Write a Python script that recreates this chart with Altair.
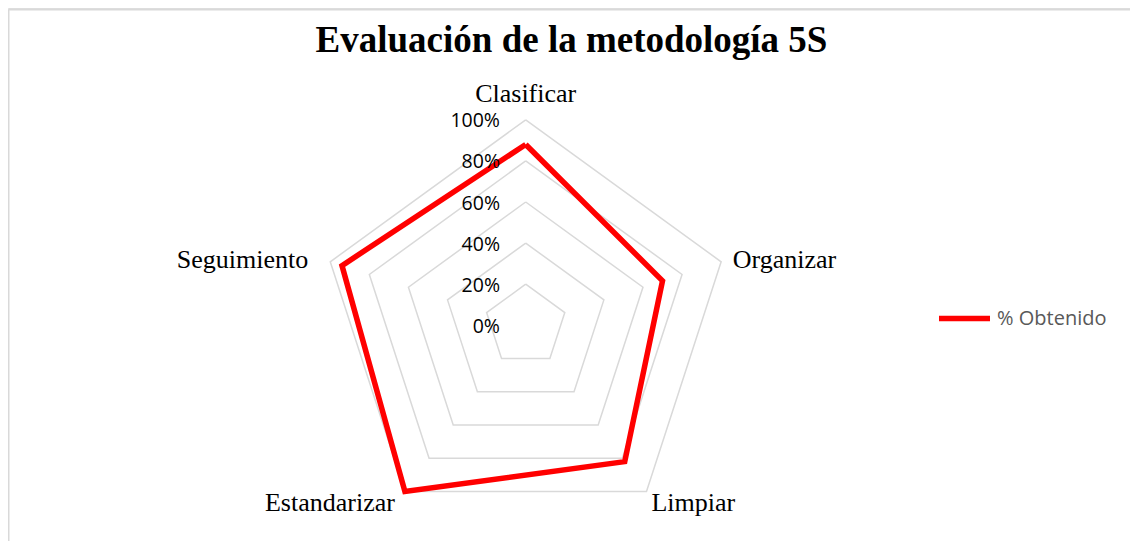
import altair as alt
import pandas as pd

# ---- data ----
categories = ["Clasificar", "Organizar", "Limpiar", "Estandarizar", "Seguimiento"]
values = [88, 70, 82, 100, 94]
grid_levels = [20, 40, 60, 80, 100]
tick_levels = [0, 20, 40, 60, 80, 100]
series_name = "% Obtenido"
title_text = "Evaluación de la metodología 5S"

N = len(categories)

# ---- layout ----
W, H = 1122, 533
R = 205.5          # pixels for 100 %
CX, CY = 517.7, 317.3

xscale = alt.Scale(domain=[-CX / R, (W - CX) / R], zero=False, nice=False)
yscale = alt.Scale(domain=[-(H - CY) / R, CY / R], zero=False, nice=False)

closed = list(range(N)) + [0]
series_df = pd.DataFrame({
    "ord": list(range(N + 1)),
    "k": closed,
    "cat": [categories[i] for i in closed],
    "value": [values[i] for i in closed],
    "series": series_name,
})

grid_rows = []
for lv in grid_levels:
    for o, k in enumerate(closed):
        grid_rows.append({"level": lv, "ord": o, "k": k})
grid_df = pd.DataFrame(grid_rows)

tick_df = pd.DataFrame({"level": tick_levels})
cat_df = pd.DataFrame({"k": list(range(N)), "cat": categories})
title_df = pd.DataFrame({"t": [title_text]})

theta = f"datum.k * 2 * PI / {N}"

X = alt.X("px:Q", scale=xscale, axis=None)
Y = alt.Y("py:Q", scale=yscale, axis=None)

grid = (
    alt.Chart(grid_df)
    .transform_calculate(th=theta)
    .transform_calculate(px="datum.level / 100 * sin(datum.th)",
                         py="datum.level / 100 * cos(datum.th)")
    .mark_line(stroke="#d9d9d9", strokeWidth=1.5)
    .encode(x=X, y=Y, detail="level:N", order="ord:Q")
)

series = (
    alt.Chart(series_df)
    .transform_calculate(th=theta)
    .transform_calculate(px="datum.value / 100 * sin(datum.th)",
                         py="datum.value / 100 * cos(datum.th)")
    .mark_line(strokeWidth=5.5, strokeJoin="miter")
    .encode(
        x=X, y=Y, order="ord:Q",
        color=alt.Color(
            "series:N",
            scale=alt.Scale(domain=[series_name], range=["#ff0000"]),
            legend=alt.Legend(
                title=None, orient="none", legendX=928, legendY=282,
                symbolType="stroke", symbolSize=2601, symbolStrokeWidth=5.5,
                labelFont="Open Sans", labelFontSize=20, labelColor="#595959",
                labelOffset=4, padding=0,
            ),
        ),
    )
)

ticks = (
    alt.Chart(tick_df)
    .transform_calculate(px="0", py="datum.level / 100",
                         label="format(datum.level / 100, '.0%')")
    .mark_text(align="right", baseline="middle", dx=-25.7, dy=1.5,
               font="Open Sans", fontSize=19.5, color="#000000")
    .encode(x=X, y=Y, text="label:N")
)

# label placement styles per category index: (align, dx, dy)
label_style = {
    0: ("center", 0, -18),
    1: ("left", 11.6, 6.5),
    2: ("left", 5, 19),
    3: ("right", -10, 19),
    4: ("right", -22, 6.5),
}
label_layers = []
for k, (al, dx, dy) in label_style.items():
    label_layers.append(
        alt.Chart(cat_df)
        .transform_filter(f"datum.k == {k}")
        .transform_calculate(th=theta)
        .transform_calculate(px="sin(datum.th)", py="cos(datum.th)")
        .mark_text(align=al, baseline="alphabetic", dx=dx, dy=dy,
                   font="Liberation Serif", fontSize=26, color="#000000")
        .encode(x=X, y=Y, text="cat:N")
    )

title = (
    alt.Chart(title_df)
    .mark_text(align="center", baseline="alphabetic", font="Liberation Serif",
               fontSize=37, fontWeight="bold", color="#000000")
    .encode(x=alt.value(563.5), y=alt.value(44), text="t:N")
)

border_df = pd.DataFrame({"b": [0]})
left_border = alt.Chart(border_df).mark_rule(color="#d9d9d9", strokeWidth=1.5).encode(
    x=alt.value(0.75), y=alt.value(1.7), y2=alt.value(H))
top_border = alt.Chart(border_df).mark_rule(color="#d9d9d9", strokeWidth=1.5).encode(
    x=alt.value(0.75), x2=alt.value(W), y=alt.value(1.7))

chart = (
    alt.layer(left_border, top_border, grid, series, ticks, *label_layers, title)
    .properties(
        width=W, height=H,
        autosize=alt.AutoSizeParams(type="none"),
        padding=0,
    )
    .configure_view(stroke=None)
    .configure(background="white")
)

chart.save("out.html", embed_options={"renderer": "svg", "actions": False})
